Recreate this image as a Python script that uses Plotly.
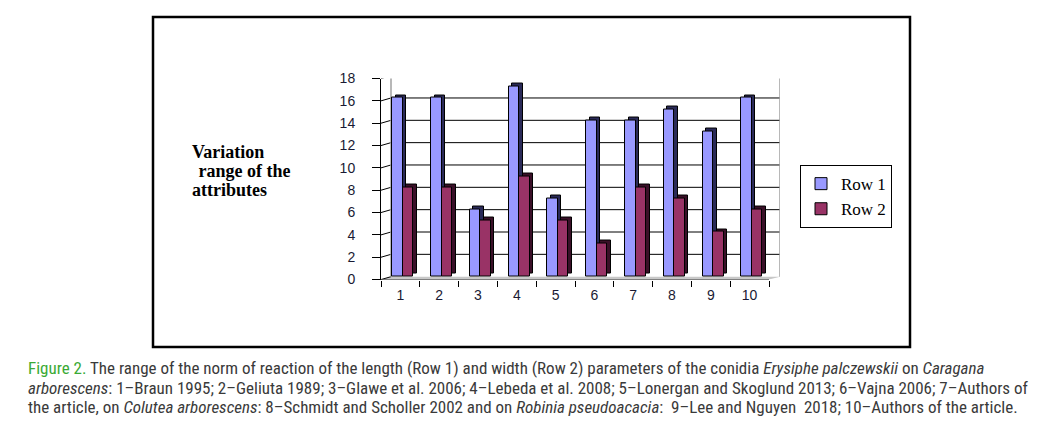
import plotly.graph_objects as go

# ---------------- data ----------------
categories = ["1", "2", "3", "4", "5", "6", "7", "8", "9", "10"]
row1 = [16, 16, 6, 17, 7, 14, 14, 15, 13, 16]
row2 = [8, 8, 5, 9, 5, 3, 8, 7, 4, 6]
y_ticks = [0, 2, 4, 6, 8, 10, 12, 14, 16, 18]
series_names = ["Row 1", "Row 2"]

# ---------------- geometry / style ----------------
W, H = 1051, 436          # browser window
OX, OY = 8, 8             # default page body margin
FW, FH = W - 2 * OX, H - 2 * OY


def px(xp):
    return (xp - OX) / FW


def py(yp):
    return 1 - (yp - OY) / FH


X_LEFT_PX, X_LAST_TICK_PX, X_WALL_RIGHT_PX = 381, 769, 780
Y_BOTTOM_PX, Y_TOP_PX = 282, 73
n = len(categories)
px_per_x = (X_LAST_TICK_PX - X_LEFT_PX) / n
x_min = -0.5
x_max = n - 0.5 + (X_WALL_RIGHT_PX - X_LAST_TICK_PX) / px_per_x
y_max = max(y_ticks)
px_per_y = (Y_BOTTOM_PX - Y_TOP_PX) / y_max
wall_dx = 10 / px_per_x      # back wall offset (x units)
wall_dy = 3 / px_per_y       # back wall offset (y units)
bar_w = 0.27
side_dx = 3.5 / px_per_x
top_dy = 3 / px_per_y
offsets = [-0.21, 0.06]
face_colors = ["#9999FF", "#993366"]
side_colors = ["#2A2A58", "#3A1028"]
positions = list(range(n))

fig = go.Figure()
for vals, name, off, fc, sc in zip([row1, row2], series_names, offsets, face_colors, side_colors):
    # depth (side + top faces)
    fig.add_trace(go.Bar(
        x=positions, y=vals, base=wall_dy + top_dy, offset=off + side_dx, width=bar_w,
        marker=dict(color=sc, line=dict(color="black", width=1)),
        showlegend=False, hoverinfo="skip"))
    # front face
    fig.add_trace(go.Bar(
        x=positions, y=vals, base=wall_dy, offset=off, width=bar_w, name=name,
        marker=dict(color=fc, line=dict(color="black", width=1))))

shapes = []
# floor
shapes.append(dict(type="path", xref="x", yref="y", layer="below",
                   path=f"M{x_min},0 L{n-0.5},0 L{x_max},{wall_dy} L{x_min+wall_dx},{wall_dy} Z",
                   fillcolor="#C8C8C8", line=dict(width=0)))
# gridlines on back wall + connectors to front axis
for v in y_ticks[1:-1]:
    shapes.append(dict(type="line", xref="x", yref="y", layer="below",
                       x0=x_min + wall_dx, x1=x_max, y0=v + wall_dy, y1=v + wall_dy,
                       line=dict(color="black", width=1)))
for v in y_ticks:
    shapes.append(dict(type="line", xref="x", yref="y", layer="below",
                       x0=x_min, x1=x_min + wall_dx, y0=v, y1=v + wall_dy,
                       line=dict(color="black", width=1)))
# wall outline
shapes.append(dict(type="path", xref="x", yref="y", layer="below",
                   path=(f"M{x_min+wall_dx},{wall_dy} L{x_min+wall_dx},{y_max+wall_dy} "
                         f"L{x_max},{y_max+wall_dy} L{x_max},{wall_dy}"),
                   line=dict(color="#A0A0A0", width=1.5)))
# x axis line
shapes.append(dict(type="line", xref="x", yref="y", x0=x_min, x1=n - 0.5, y0=0, y1=0,
                   line=dict(color="black", width=1)))
# outer frame
shapes.append(dict(type="rect", xref="paper", yref="paper",
                   x0=px(153), x1=px(910), y0=py(352), y1=py(9),
                   line=dict(color="black", width=2.5)))

tick_font = dict(family="Liberation Sans, Arial", size=14, color="#1A1A33")
title_font = dict(family="Liberation Serif, Times New Roman", size=18, color="black")
cap_font = dict(family="Roboto Condensed, Liberation Sans Narrow, DejaVu Sans Condensed, Roboto",
                size=17.0, color="#3A3A3A")

annotations = []
for txt, xp, yp in [("<b>Variation</b>", 191, 149), ("<b> range of the</b>", 193, 169),
                    ("<b>attributes</b>", 191, 189)]:
    annotations.append(dict(text=txt, xref="paper", yref="paper", x=px(xp), y=py(yp),
                            xanchor="left", yanchor="middle", showarrow=False, font=title_font,
                            borderpad=0))

cap_lines = [
    "<span style='color:#3AAA35'>Figure 2.</span> The range of the norm of reaction of the length (Row 1) "
    "and width (Row 2) parameters of the conidia <i>Erysiphe palczewskii</i> on <i>Caragana</i>",
    "<i>arborescens</i>: 1–Braun 1995; 2–Geliuta 1989; 3–Glawe et al. 2006; 4–Lebeda et al. 2008; "
    "5–Lonergan and Skoglund 2013; 6–Vajna 2006; 7–Authors of",
    "the article, on <i>Colutea arborescens</i>: 8–Schmidt and Scholler 2002 and on "
    "<i>Robinia pseudoacacia</i>:  9–Lee and Nguyen  2018; 10–Authors of the article.",
]
for txt, yp in zip(cap_lines, [374, 395, 415]):
    annotations.append(dict(text=txt, xref="paper", yref="paper", x=px(27), y=py(yp),
                            xanchor="left", yanchor="middle", showarrow=False, font=cap_font,
                            borderpad=0))

fig.update_layout(
    width=FW, height=FH, margin=dict(l=0, r=0, t=0, b=0),
    paper_bgcolor="white", plot_bgcolor="white",
    barmode="overlay", bargap=0,
    shapes=shapes, annotations=annotations,
    showlegend=True,
    legend=dict(x=px(800), y=py(163), xanchor="left", yanchor="top",
                bordercolor="black", borderwidth=1, bgcolor="white",
                font=dict(family="Liberation Serif, Times New Roman", size=17, color="black"),
                tracegroupgap=0),
    xaxis=dict(domain=[px(X_LEFT_PX), px(X_WALL_RIGHT_PX)], range=[x_min, x_max],
               tickvals=positions, ticktext=categories, ticks="", showgrid=False,
               zeroline=False, showline=False, tickfont=tick_font, ticklabelstandoff=5,
               minor=dict(tickvals=[p - 0.5 for p in positions] + [n - 0.5], ticks="outside",
                          ticklen=6, tickcolor="black", tickwidth=1, showgrid=False),
               fixedrange=True),
    yaxis=dict(domain=[py(Y_BOTTOM_PX), py(Y_TOP_PX)], range=[0, y_max],
               tickvals=y_ticks, ticks="outside", ticklen=8, tickcolor="black",
               showline=True, linecolor="black", linewidth=1, showgrid=False,
               zeroline=False, tickfont=tick_font, ticklabelstandoff=14, fixedrange=True),
)

fig.write_html("out.html")
